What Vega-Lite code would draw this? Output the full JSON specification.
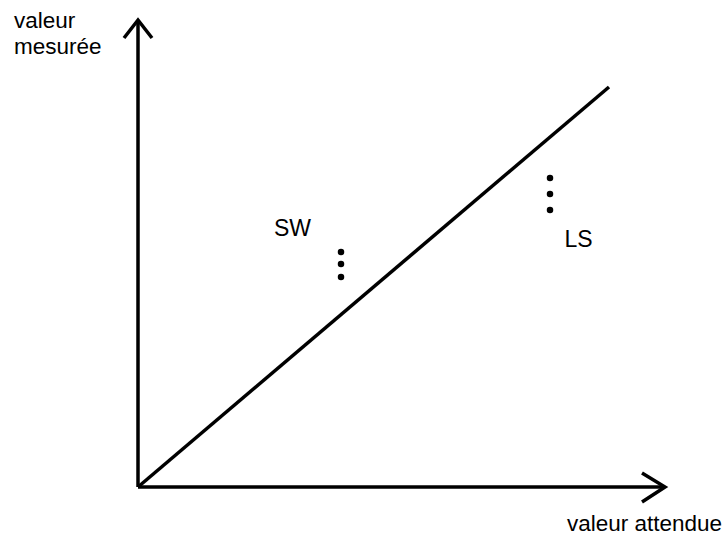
{
  "$schema": "https://vega.github.io/schema/vega-lite/v6.json",
  "width": 725,
  "height": 535,
  "padding": 0,
  "autosize": "none",
  "background": "white",
  "config": {"view": {"stroke": null}},
  "datasets": {
    "paths": [
      {"path": "yaxis", "ord": 1, "x": 0, "y": 0},
      {"path": "yaxis", "ord": 2, "x": 0, "y": 467},
      {"path": "yhead", "ord": 1, "x": -14, "y": 449},
      {"path": "yhead", "ord": 2, "x": 0, "y": 467},
      {"path": "yhead", "ord": 3, "x": 14, "y": 449},
      {"path": "xaxis", "ord": 1, "x": 0, "y": 0},
      {"path": "xaxis", "ord": 2, "x": 527, "y": 0},
      {"path": "xhead", "ord": 1, "x": 504, "y": 14},
      {"path": "xhead", "ord": 2, "x": 527, "y": 0},
      {"path": "xhead", "ord": 3, "x": 504, "y": -15},
      {"path": "diag", "ord": 1, "x": 0, "y": 0},
      {"path": "diag", "ord": 2, "x": 471, "y": 400}
    ],
    "dots": [
      {"group": "SW", "x": 203, "y": 235},
      {"group": "SW", "x": 203, "y": 223},
      {"group": "SW", "x": 203, "y": 210},
      {"group": "LS", "x": 412, "y": 309},
      {"group": "LS", "x": 412, "y": 293},
      {"group": "LS", "x": 412, "y": 277}
    ],
    "labels": [
      {"label": "SW", "x": 154.5, "y": 258.5},
      {"label": "LS", "x": 440.5, "y": 247}
    ],
    "titles": [
      {"label": "valeur", "x": -124, "y": 459},
      {"label": "mesurée", "x": -124, "y": 433},
      {"label": "valeur attendue", "x": 429, "y": -44}
    ]
  },
  "encoding": {
    "x": {"field": "x", "type": "quantitative", "scale": {"domain": [-138, 587], "nice": false, "zero": false}, "axis": null},
    "y": {"field": "y", "type": "quantitative", "scale": {"domain": [-48, 487], "nice": false, "zero": false}, "axis": null}
  },
  "layer": [
    {
      "data": {"name": "paths"},
      "mark": {"type": "line", "color": "black", "strokeWidth": 3.5, "strokeJoin": "miter", "strokeCap": "butt"},
      "encoding": {
        "detail": {"field": "path"},
        "order": {"field": "ord", "type": "quantitative"}
      }
    },
    {
      "data": {"name": "dots"},
      "mark": {"type": "circle", "color": "black", "opacity": 1, "size": 42}
    },
    {
      "data": {"name": "labels"},
      "mark": {"type": "text", "font": "Liberation Sans", "fontSize": 23, "align": "center", "baseline": "middle", "color": "black"},
      "encoding": {"text": {"field": "label"}}
    },
    {
      "data": {"name": "titles"},
      "mark": {"type": "text", "font": "Liberation Sans", "fontSize": 22.5, "align": "left", "baseline": "alphabetic", "color": "black"},
      "encoding": {"text": {"field": "label"}}
    }
  ]
}
